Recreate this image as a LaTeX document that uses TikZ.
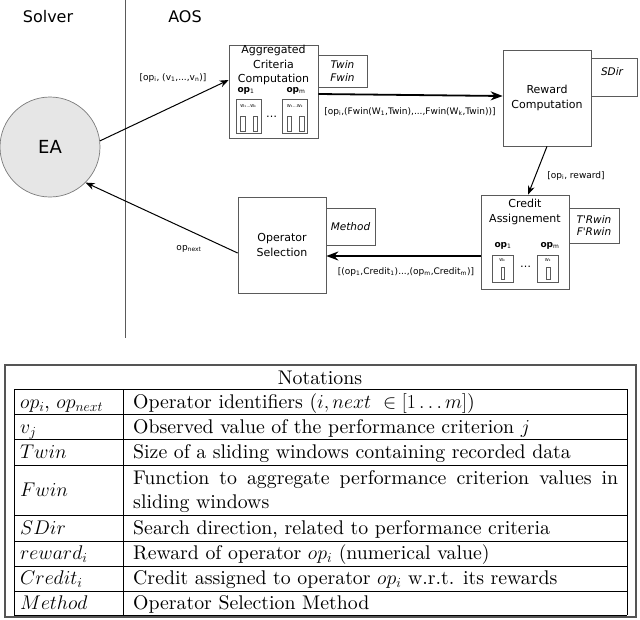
\RequirePackage{fix-cm}
\documentclass[tikz,border=0pt]{standalone}
\usepackage{fontspec}
\newfontfamily\dv{DejaVu Sans}
\newfontfamily\lmten{lmroman10-regular}[Extension=.otf]
\usetikzlibrary{arrows.meta}
\definecolor{boxgray}{HTML}{5A5A5A}
\definecolor{eafill}{HTML}{E6E6E6}
\definecolor{framegray}{HTML}{555555}
\begin{document}
\begin{tikzpicture}[x=1pt,y=-1pt,
 box/.style={draw=boxgray, line width=0.7pt, inner sep=0pt, fill=white},
 lbl/.style={font=\dv\fontsize{9}{10}\selectfont, inner sep=0pt},
 btxt/.style={font=\dv\fontsize{11}{14.5}\selectfont, align=center, inner sep=0pt},
 itxt/.style={font=\dv\itshape\fontsize{10.5}{12.5}\selectfont, align=center, inner sep=0pt},
 optxt/.style={font=\dv\fontsize{9}{10}\selectfont, inner sep=0pt},
 tinytxt/.style={font=\dv\fontsize{4}{5}\selectfont, inner sep=0pt},
 dotstxt/.style={font=\dv\fontsize{11}{12}\selectfont, inner sep=0pt},
 arr/.style={-{Stealth[length=9pt,width=7pt]}, line width=1pt},
 tarr/.style={-{Stealth[length=12pt,width=9pt]}, line width=1.8pt},
 barbox/.style={draw=boxgray, line width=0.5pt, inner sep=0pt},
 tabtxt/.style={font=\lmten\fontsize{19.8}{24}\selectfont, inner sep=0pt},
 tabline/.style={line width=0.7pt, black},
]
\useasboundingbox (0,0) rectangle (640,619);

% headers
\node[font=\dv\fontsize{16}{18}\selectfont, inner sep=0pt] (solver) at (48,17) {Solver};
\node[font=\dv\fontsize{16}{18}\selectfont, inner sep=0pt] (aos) at (185,17) {AOS};
\coordinate (vt) at (125,0);
\coordinate (vb) at (125,338);
\draw[boxgray, line width=0.7pt] (vt) -- (vb);

% EA
\node[circle, draw=boxgray!80, line width=0.7pt, fill=eafill, minimum size=100pt, inner sep=0pt,
      font=\dv\fontsize{18}{20}\selectfont] (ea) at (50,147) {EA};

% Aggregated Criteria Computation
\node[box, minimum width=89pt, minimum height=93pt] (agg) at (273.5,91.5) {};
\node[btxt, anchor=north] (aggt) at (273.5,45) {Aggregated\\Criteria\\Computation};
\node[box, minimum width=49pt, minimum height=32pt] (twin) at (342.5,71) {};
\node[itxt] (twint) at (twin) {Twin\\Fwin};
\node[optxt] (aop1) at (246,91) {\textbf{op}\textsubscript{1}};
\node[optxt] (aopm) at (296,91) {\textbf{op}\textsubscript{m}};
\node[box, minimum width=25pt, minimum height=34pt] (asb1) at (248.5,116.5) {};
\node[box, minimum width=25pt, minimum height=34pt] (asb2) at (295,116.5) {};
\node[tinytxt] (asb1l) at (248.5,106) {W\textsubscript{1}...W\textsubscript{k}};
\node[tinytxt] (asb2l) at (295,106) {W\textsubscript{1}...W\textsubscript{k}};
\node[barbox, minimum width=4.5pt, minimum height=15pt] (ab11) at (242.5,124) {};
\node[barbox, minimum width=4.5pt, minimum height=15pt] (ab12) at (255,124) {};
\node[barbox, minimum width=4.5pt, minimum height=15pt] (ab21) at (289,124) {};
\node[barbox, minimum width=4.5pt, minimum height=15pt] (ab22) at (301.5,124) {};
\node[dotstxt] (adots) at (271.5,117) {\ldots};

% Reward Computation
\node[box, minimum width=88pt, minimum height=96pt] (rew) at (547,98) {};
\node[btxt] (rewt) at (rew) {Reward\\Computation};
\node[box, minimum width=46pt, minimum height=38pt] (sdir) at (614,77) {};
\node[itxt] (sdirt) at (612,72) {SDir};

% Credit Assignement
\node[box, minimum width=88pt, minimum height=94pt] (cred) at (525,242) {};
\node[btxt, anchor=north] (credt) at (525,199) {Credit\\Assignement};
\node[box, minimum width=50pt, minimum height=35pt] (trwin) at (594,225.5) {};
\node[itxt] (trwint) at (594,225.5) {T'Rwin\\F'Rwin};
\node[optxt] (cop1) at (503,246) {\textbf{op}\textsubscript{1}};
\node[optxt] (copm) at (550,246) {\textbf{op}\textsubscript{m}};
\node[box, minimum width=21pt, minimum height=27pt] (csb1) at (502.5,268.5) {};
\node[box, minimum width=21pt, minimum height=27pt] (csb2) at (548,268.5) {};
\node[tinytxt] (csb1l) at (502.5,260) {W\textsubscript{k}};
\node[tinytxt] (csb2l) at (548,260) {W\textsubscript{k}};
\node[barbox, minimum width=3.5pt, minimum height=12pt] (cb1) at (502.5,273.5) {};
\node[barbox, minimum width=3.5pt, minimum height=12pt] (cb2) at (548,273.5) {};
\node[dotstxt] (cdots) at (525.5,267) {\ldots};

% Operator Selection
\node[box, minimum width=88pt, minimum height=96pt] (opsel) at (282,245) {};
\node[btxt] (opselt) at (opsel) {Operator\\Selection};
\node[box, minimum width=49pt, minimum height=37pt] (meth) at (350.5,226.5) {};
\node[itxt] (metht) at (meth) {Method};

% connectors
\draw[arr] (ea.7) -- ([yshift=11.5pt]agg.west);
\node[lbl] (l1) at (173,78) {[op\textsubscript{i}, (v\textsubscript{1},...,v\textsubscript{n})]};
\draw[tarr] ([yshift=-2.5pt]agg.east) -- ([yshift=2pt]rew.west);
\node[lbl] (l2) at (410,112) {[op\textsubscript{i},(Fwin(W\textsubscript{1},Twin),...,Fwin(W\textsubscript{k},Twin))]};
\draw[arr] (rew.south) -- ([xshift=3pt]cred.north);
\node[lbl] (l3) at (576,176) {[op\textsubscript{i}, reward]};
\draw[tarr] ([yshift=-14pt]cred.west) -- ([yshift=-11pt]opsel.east);
\node[lbl] (l4) at (406,272) {[(op\textsubscript{1},Credit\textsubscript{1})...,(op\textsubscript{m},Credit\textsubscript{m})]};
\draw[arr] ([yshift=-8pt]opsel.west) -- (ea.-45);
\node[lbl] (l5) at (189,249) {op\textsubscript{next}};

% table
\draw[framegray, line width=1.2pt] (5,365) rectangle (636,617);
\node[tabtxt, anchor=base] (thead) at (320,384.5) {Notations};
\foreach \yy in {389,414,439,465,515,541,566,591,615} {
  \draw[tabline] (14,\yy) -- (627,\yy);
}
\foreach \xx in {14,123,627} {
  \draw[tabline] (\xx,389) -- (\xx,615);
}
\node[tabtxt, anchor=base west] (k1) at (20,408.5) {$op_i$, $op_{next}$};
\node[tabtxt, anchor=base west] (k2) at (20,433.5) {$v_j$};
\node[tabtxt, anchor=base west] (k3) at (20,458.5) {$Twin$};
\node[tabtxt, anchor=base west] (k4) at (20,496.5) {$Fwin$};
\node[tabtxt, anchor=base west] (k5) at (20,534.5) {$SDir$};
\node[tabtxt, anchor=base west] (k6) at (20,559.5) {$reward_i$};
\node[tabtxt, anchor=base west] (k7) at (20,584.5) {$Credit_i$};
\node[tabtxt, anchor=base west] (k8) at (20,609) {$Method$};
\node[tabtxt, anchor=base west] (d1) at (133,408.5) {Operator identifiers ($i,next\ \in[1\ldots m]$)};
\node[tabtxt, anchor=base west] (d2) at (133,433.5) {Observed value of the performance criterion $j$};
\node[tabtxt, anchor=base west] (d3) at (133,458.5) {Size of a sliding windows containing recorded data};
\node[tabtxt, anchor=base west] (d4a) at (133,484.5) {\makebox[485pt][s]{Function to aggregate performance criterion values in}};
\node[tabtxt, anchor=base west] (d4b) at (133,508.5) {sliding windows};
\node[tabtxt, anchor=base west] (d5) at (133,534.5) {Search direction, related to performance criteria};
\node[tabtxt, anchor=base west] (d6) at (133,559.5) {Reward of operator $op_i$ (numerical value)};
\node[tabtxt, anchor=base west] (d7) at (133,584.5) {Credit assigned to operator $op_i$ w.r.t. its rewards};
\node[tabtxt, anchor=base west] (d8) at (133,609) {Operator Selection Method};
\end{tikzpicture}
\end{document}
